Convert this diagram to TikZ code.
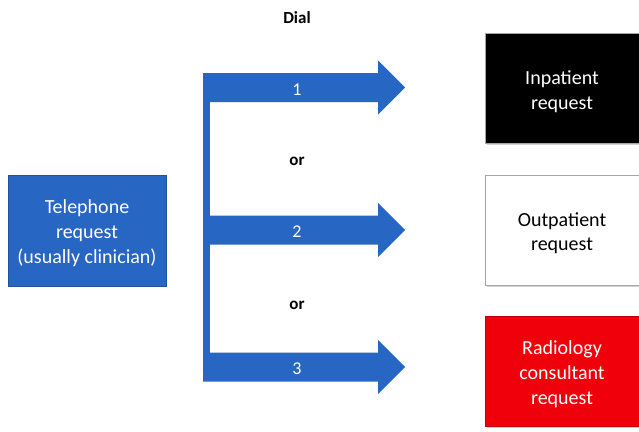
\documentclass[tikz,border=0pt]{standalone}
\usepackage{fontspec}
\setmainfont{Carlito}
\usetikzlibrary{shadows}
\definecolor{dblue}{RGB}{40,102,196}
\definecolor{dred}{RGB}{240,0,10}
\begin{document}
\begin{tikzpicture}[x=1pt,y=-1pt,
  box/.style={draw=gray!70,line width=0.8pt,minimum width=154pt,minimum height=110pt,inner sep=0pt,drop shadow={opacity=0.35,shadow xshift=1.5pt,shadow yshift=-1.5pt}},
  txt/.style={align=center,inner sep=0pt,font=\fontsize{20}{24.5}\selectfont},
  lbl/.style={font=\fontsize{17}{20}\selectfont\bfseries},
  num/.style={text=white,font=\fontsize{18}{20}\selectfont}]
\useasboundingbox (0,0) rectangle (639,431);
\fill[white] (0,0) rectangle (639,431);
% left box
\node[fill=dblue,draw=dblue!80!black,line width=0.6pt,minimum width=158pt,minimum height=111pt,inner sep=0pt] (tel) at (87,230.5) {};
\node[txt,text=white,font=\fontsize{20}{25}\selectfont] (telt) at (87,233.5) {Telephone\\request\\(usually clinician)};
% right boxes
\node[box,fill=black] (inp) at (562,88.5) {};
\node[txt,text=white] (inpt) at (562,91.5) {Inpatient\\request};
\node[box,fill=white] (outp) at (562,230) {};
\node[txt,text=black] (outpt) at (562,233) {Outpatient\\request};
\node[box,fill=dred,draw=dred!80!black] (rad) at (562,371.5) {};
\node[txt,text=white,font=\fontsize{20}{25}\selectfont] (radt) at (562,374.5) {Radiology\\consultant\\request};
% E-shaped arrows
\fill[dblue] (203,73) rectangle (210,381);
\foreach \yc/\n in {87.5/a1,230/a2,367/a3}{
  \fill[dblue] (203,\yc-14.5) -- (378,\yc-14.5) -- (378,\yc-27) -- (405,\yc) -- (378,\yc+27) -- (378,\yc+14.5) -- (203,\yc+14.5) -- cycle;
  \coordinate (\n) at (297,\yc+2);
}
\node[num] (n1) at (a1) {1};
\node[num] (n2) at (a2) {2};
\node[num] (n3) at (a3) {3};
% labels
\node[lbl] (dial) at (297,18) {Dial};
\node[lbl] (or1) at (297,161) {or};
\node[lbl] (or2) at (297,305) {or};
\end{tikzpicture}
\end{document}
